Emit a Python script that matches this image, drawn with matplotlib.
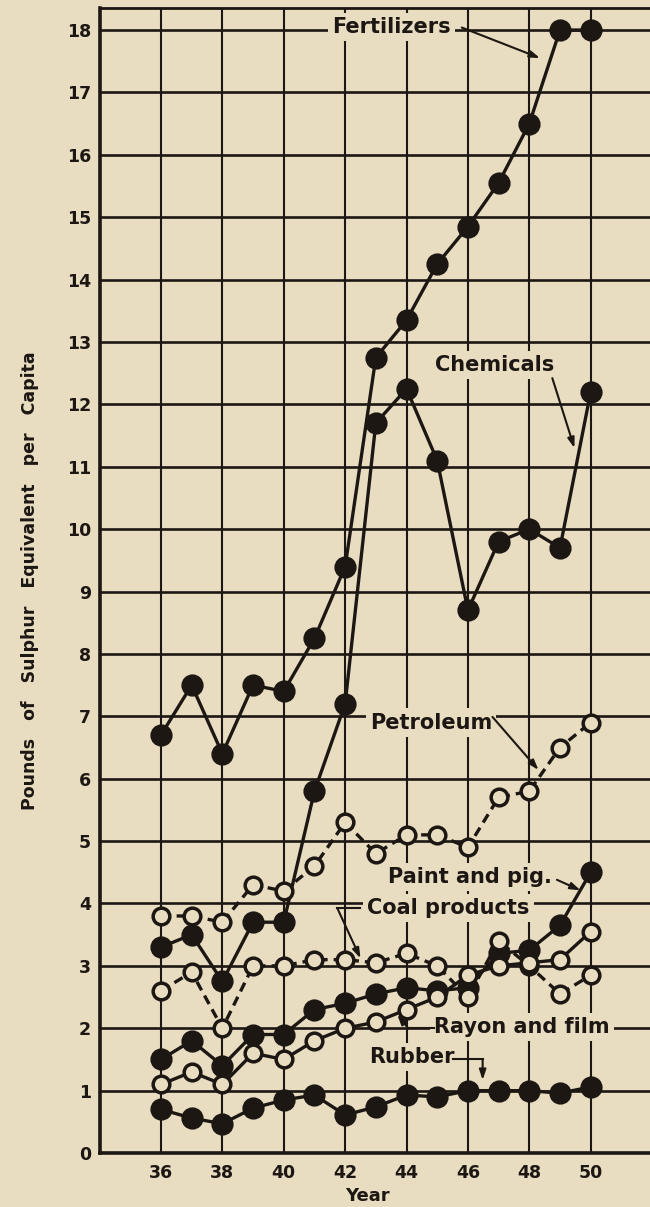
import matplotlib
matplotlib.use('Agg')
import matplotlib.pyplot as plt

# sulphur use by industry, pounds per capita, 1936-1950
years = [36, 37, 38, 39, 40, 41, 42, 43, 44, 45, 46, 47, 48, 49, 50]
fertilizers = [6.7, 7.5, 6.4, 7.5, 7.4, 8.25, 9.4, 12.75, 13.35, 14.25, 14.85, 15.55, 16.5, 18.0, 18.0]
chemicals = [3.3, 3.5, 2.75, 3.7, 3.7, 5.8, 7.2, 11.7, 12.25, 11.1, 8.7, 9.8, 10.0, 9.7, 12.2]
petroleum = [3.8, 3.8, 3.7, 4.3, 4.2, 4.6, 5.3, 4.8, 5.1, 5.1, 4.9, 5.7, 5.8, 6.5, 6.9]
coal_products = [2.6, 2.9, 2.0, 3.0, 3.0, 3.1, 3.1, 3.05, 3.2, 3.0, 2.5, 3.4, 3.0, 2.55, 2.85]
paint_pigments = [1.5, 1.8, 1.4, 1.9, 1.9, 2.3, 2.4, 2.55, 2.65, 2.6, 2.65, 3.2, 3.25, 3.65, 4.5]
rayon_film = [1.1, 1.3, 1.1, 1.6, 1.5, 1.8, 2.0, 2.1, 2.3, 2.5, 2.85, 3.0, 3.05, 3.1, 3.55]
rubber = [0.7, 0.56, 0.47, 0.72, 0.85, 0.93, 0.61, 0.74, 0.93, 0.9, 1.0, 1.0, 1.0, 0.96, 1.06]

x_ticks = [36, 38, 40, 42, 44, 46, 48, 50]
y_ticks = list(range(0, 19))

paper = '#e8dcc1'
ink = '#1d1713'

plt.rcParams['font.family'] = ['DejaVu Sans']

fig = plt.figure(figsize=(6.5, 12.07), dpi=100, facecolor=paper)
ax = fig.add_axes([0.1532, 0.0447, 0.850, 0.9485])
ax.set_facecolor(paper)
ax.set_xlim(34, 52)
ax.set_ylim(0, 18.35)

ax.set_xticks(x_ticks)
ax.set_xticklabels([str(t) for t in x_ticks])
ax.set_yticks(y_ticks)
ax.set_yticklabels([str(t) for t in y_ticks])
ax.tick_params(axis='both', length=0, labelsize=12.5, colors=ink)
ax.tick_params(axis='x', pad=8)
ax.tick_params(axis='y', pad=6)
for lab in ax.get_xticklabels() + ax.get_yticklabels():
    lab.set_fontweight('bold')

ax.set_axisbelow(True)
ax.yaxis.grid(True, color=ink, lw=1.9)
ax.xaxis.grid(True, color=ink, lw=1.5)

for side in ['left', 'bottom']:
    ax.spines[side].set_linewidth(2.6)
    ax.spines[side].set_color(ink)
ax.spines['top'].set_linewidth(2.0)
ax.spines['top'].set_color(ink)
ax.spines['right'].set_visible(False)


def draw(vals, filled, dashed):
    ax.plot(years, vals, color=ink, lw=2.4,
            ls=(0, (2.9, 1.8)) if dashed else '-',
            marker='o', ms=13.5 if filled else 12,
            mfc=ink if filled else paper, mec=ink, mew=2.5, zorder=3,
            clip_on=False)


draw(fertilizers, True, False)
draw(chemicals, True, False)
draw(paint_pigments, True, False)
draw(rubber, True, False)
draw(petroleum, False, True)
draw(coal_products, False, True)
draw(rayon_film, False, False)

label_kw = dict(ha='center', va='center', fontsize=15, fontweight='bold', color=ink,
                bbox=dict(boxstyle='square,pad=0.2', fc=paper, ec='none'), zorder=2.5)
arrow_kw = dict(arrowstyle='-|>,head_length=0.6,head_width=0.2', color=ink, lw=1.5,
                shrinkA=0, shrinkB=0)

ax.text(43.5, 18.05, 'Fertilizers', **label_kw)
ax.annotate('', xy=(48.35, 17.55), xytext=(45.8, 18.04), arrowprops=arrow_kw, zorder=2.6)

ax.text(46.87, 12.63, 'Chemicals', **label_kw)
ax.annotate('', xy=(49.47, 11.3), xytext=(48.75, 12.42), arrowprops=arrow_kw, zorder=2.6)

ax.text(44.8, 6.9, 'Petroleum', **label_kw)
ax.annotate('', xy=(48.3, 6.14), xytext=(46.8, 6.99), arrowprops=arrow_kw, zorder=2.6)

ax.text(46.08, 4.42, 'Paint and pig.', **label_kw)
ax.annotate('', xy=(49.67, 4.21), xytext=(48.9, 4.38), arrowprops=arrow_kw, zorder=2.6)

ax.text(45.37, 3.93, 'Coal products', **label_kw)
ax.plot([41.75, 42.5], [3.92, 3.92], color=ink, lw=1.5, zorder=2.6)
ax.annotate('', xy=(42.5, 3.12), xytext=(41.75, 3.92), arrowprops=arrow_kw, zorder=2.6)

ax.text(47.75, 2.02, 'Rayon and film', **label_kw)
ax.plot([44.05, 44.9], [2.0, 2.0], color=ink, lw=1.5, zorder=2.6)
ax.annotate('', xy=(43.7, 2.22), xytext=(44.05, 2.0), arrowprops=arrow_kw, zorder=2.6)

ax.text(44.16, 1.54, 'Rubber', **label_kw)
ax.plot([45.5, 46.48], [1.5, 1.5], color=ink, lw=1.5, zorder=2.6)
ax.annotate('', xy=(46.48, 1.17), xytext=(46.48, 1.5), arrowprops=arrow_kw, zorder=2.6)

fig.text(0.046, 0.519, 'Pounds   of   Sulphur   Equivalent   per   Capita',
         rotation=90, ha='center', va='center', fontsize=12.5, fontweight='bold', color=ink)
fig.text(0.566, 0.0091, 'Year', ha='center', va='center', fontsize=13,
         fontweight='bold', color=ink)

fig.savefig('out.png', dpi=100, facecolor=paper)
